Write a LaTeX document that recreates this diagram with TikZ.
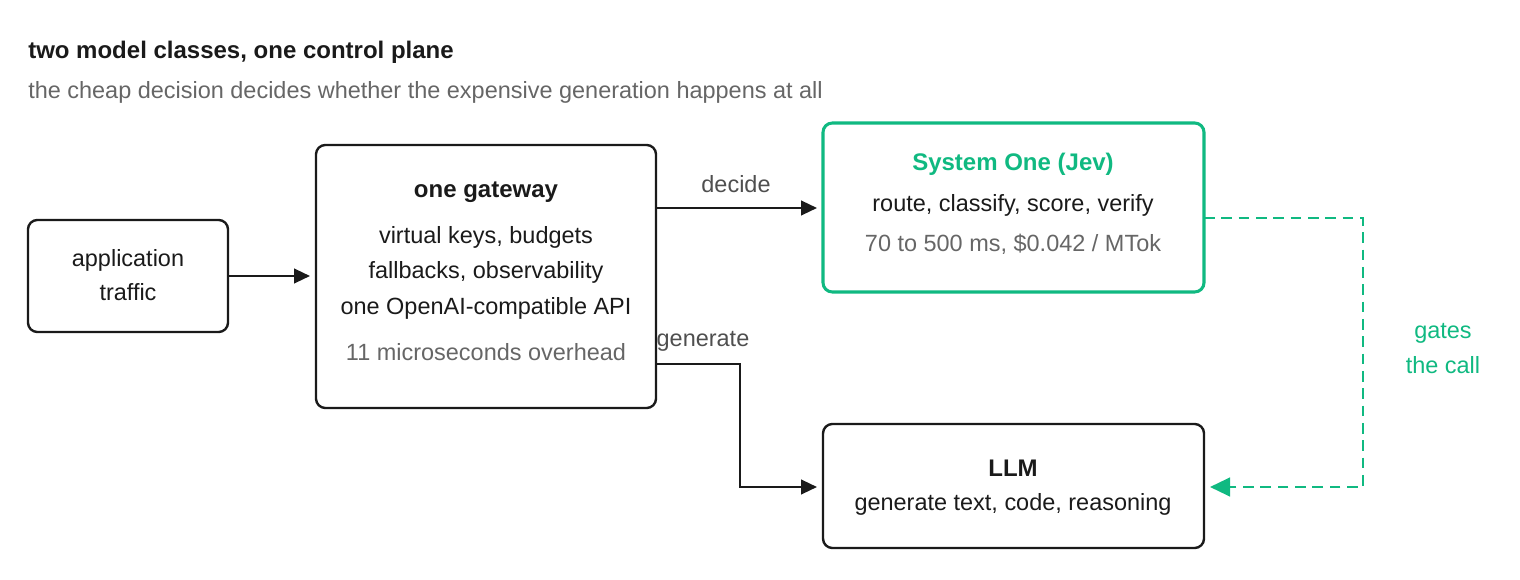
\documentclass[tikz,border=0pt]{standalone}
\usepackage{fontspec}
\setmainfont{Liberation Sans}
\usepackage{tikz}
\usetikzlibrary{arrows.meta}
\definecolor{ink}{HTML}{1A1A1A}
\definecolor{mute}{HTML}{666666}
\definecolor{jade}{HTML}{10B981}
\begin{document}
\begin{tikzpicture}[x=0.75pt, y=-0.75pt,
    box/.style={draw=ink, line width=1.8pt, rounded corners=7pt},
    txt/.style={text=ink, font=\fontsize{17.6}{20}\selectfont, inner sep=0},
    note/.style={text=mute, font=\fontsize{17.6}{20}\selectfont, inner sep=0},
    head/.style={text=ink, font=\fontsize{18}{20}\selectfont\bfseries, inner sep=0},
    link/.style={draw=ink, line width=1.7pt, -{Triangle[length=12pt, width=11pt]}}]
        \useasboundingbox (0,0) rectangle (1520,580);

        % title
        \node (t0) [head, anchor=west] at (28, 52) {two model classes, one control plane};
        \node (t1) [note, anchor=west] at (28, 92) {the cheap decision decides whether the expensive generation happens at all};

        % boxes
        \draw[box] (28,220) rectangle (228,332);
        \draw[box] (316,145) rectangle (656,408);
        \draw[box, draw=jade, line width=2.3pt] (823,123) rectangle (1204,292);
        \draw[box] (823,424) rectangle (1204,548);

        \coordinate (app) at (228,276);
        \coordinate (gwin) at (310,276);
        \coordinate (gwdec) at (656,208);
        \coordinate (gwgen) at (656,364);
        \coordinate (s1in) at (817,208);
        \coordinate (s1out) at (1204,218);
        \coordinate (llmin) at (817,487);
        \coordinate (llmgate) at (1210,487);

        % texts
        \node (a0) [txt] at (128,260) {application};
        \node (a1) [txt] at (128,292) {traffic};

        \node (g0) [head] at (486,192) {one gateway};
        \node (g1) [txt] at (486,237) {virtual keys, budgets};
        \node (g2) [txt] at (486,272) {fallbacks, observability};
        \node (g3) [txt] at (486,308) {one OpenAI-compatible API};
        \node (g4) [note] at (486,352) {11 microseconds overhead};

        \node (s0) [head, text=jade] at (1013,164) {System One (Jev)};
        \node (s1) [txt] at (1013,205) {route, classify, score, verify};
        \node (s2) [note] at (1013,244) {70 to 500 ms, \$0.042 / MTok};

        \node (l0) [head] at (1013,468) {LLM};
        \node (l1) [txt] at (1013,504) {generate text, code, reasoning};

        \node (e0) [txt, text=mute!70!ink] at (736,184) {decide};
        \node (e1) [txt, text=mute!70!ink] at (703,341) {generate};
        \node (e2) [txt, text=jade] at (1443,333) {gates};
        \node (e3) [txt, text=jade] at (1443,365) {the call};

        % connectors
        \draw[link] (app) -- (gwin);
        \draw[link] (gwdec) -- (s1in);
        \draw[link] (gwgen) -- (740,364) -- (740,487) -- (llmin);
        \draw[link, draw=jade, dash pattern=on 8pt off 5pt,
            -{Triangle[length=15pt, width=14pt, fill=jade]}]
            (s1out) -- (1363,218) -- (1363,487) -- (llmgate);
\end{tikzpicture}
\end{document}
